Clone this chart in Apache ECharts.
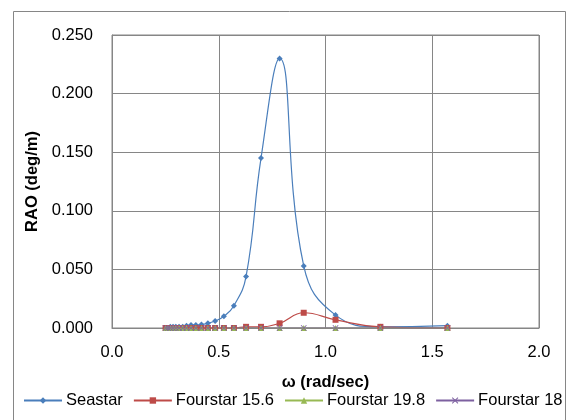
<!DOCTYPE html>
<html>
<head>
<meta charset="utf-8">
<script src="https://cdn.jsdelivr.net/npm/echarts@6/dist/echarts.min.js"></script>
<style>
  html, body { margin: 0; padding: 0; background: #fff; }
  #chart { width: 571px; height: 420px; }
</style>
</head>
<body>
<div id="chart"></div>
<script>
// Wave frequencies (rad/s), 2π/T for T = 25 s down to 4 s
const omega = [0.251, 0.262, 0.273, 0.286, 0.299, 0.314, 0.331, 0.349, 0.370, 0.393,
               0.419, 0.449, 0.483, 0.524, 0.571, 0.628, 0.698, 0.785, 0.898, 1.047,
               1.257, 1.571];

// Response amplitude operators (deg/m)
const seastar = [0.000, 0.000, 0.001, 0.001, 0.001, 0.001, 0.001, 0.002, 0.0025, 0.0025,
                 0.003, 0.004, 0.006, 0.010, 0.019, 0.044, 0.145, 0.230, 0.053, 0.011,
                 0.001, 0.002];
const fourstar156 = [0, 0, 0, 0, 0, 0, 0, 0, 0, 0,
                     0, 0, 0, 0, 0, 0.001, 0.001, 0.004, 0.013, 0.007,
                     0.001, 0.000];
const fourstar198 = [0, 0, 0, 0, 0, 0, 0, 0, 0, 0,
                     0, 0, 0, 0, 0, 0, 0, 0, 0, 0,
                     0, 0];
const fourstar18 = [0, 0, 0, 0, 0, 0, 0, 0, 0, 0,
                    0, 0, 0, 0, 0, 0, 0, 0, 0, 0,
                    0, 0];

const seriesNames = ['Seastar', 'Fourstar 15.6', 'Fourstar 19.8', 'Fourstar 18'];
const xTicks = { min: 0, max: 2, step: 0.5 };
const yTicks = { min: 0, max: 0.25, step: 0.05 };

const FONT = "'Liberation Sans', Arial, sans-serif";
const GRID = '#868686';
const crossPath = 'path://M1,0L5,4L9,0L10,1L6,5L10,9L9,10L5,6L1,10L0,9L4,5L0,1Z';

function pairs(ys) { return omega.map((x, i) => [x, ys[i]]); }

function lineSeries(name, ys, color, symbol, size) {
  return {
    name: name,
    type: 'line',
    data: pairs(ys),
    smooth: 0.45,
    symbol: symbol,
    symbolSize: size,
    showAllSymbol: true,
    lineStyle: { color: color, width: 1.2 },
    itemStyle: { color: color },
    emphasis: { disabled: true },
    z: 3
  };
}

const chart = echarts.init(document.getElementById('chart'), null, { renderer: 'canvas' });
chart.setOption({
  animation: false,
  backgroundColor: '#ffffff',
  textStyle: { fontFamily: FONT },
  graphic: [{
    type: 'rect',
    shape: { x: 13.5, y: 11.5, width: 552, height: 420 },
    style: { fill: 'none', stroke: GRID, lineWidth: 1 },
    silent: true
  }],
  grid: { left: 112, top: 35, right: 32, bottom: 92, show: true, borderColor: GRID, borderWidth: 1 },
  legend: {
    data: seriesNames,
    left: 23,
    top: 392,
    width: 600,
    padding: 0,
    itemWidth: 38,
    itemHeight: 8,
    itemGap: 10,
    textStyle: { fontFamily: FONT, fontSize: 16.5, color: '#000', padding: [0, 0, 0, -1] }
  },
  xAxis: {
    type: 'value',
    min: xTicks.min, max: xTicks.max, interval: xTicks.step,
    name: 'ω (rad/sec)',
    nameLocation: 'middle',
    nameGap: 46,
    nameTextStyle: { fontFamily: FONT, fontSize: 16.5, fontWeight: 'bold', color: '#000' },
    axisLine: { lineStyle: { color: GRID } },
    axisTick: { show: false },
    axisLabel: { margin: 16, fontFamily: FONT, fontSize: 16.5, color: '#000',
                 formatter: v => v.toFixed(1) },
    splitLine: { show: true, lineStyle: { color: GRID, width: 1 } }
  },
  yAxis: {
    type: 'value',
    min: yTicks.min, max: yTicks.max, interval: yTicks.step,
    name: 'RAO (deg/m)',
    nameLocation: 'middle',
    nameGap: 69,
    nameTextStyle: { fontFamily: FONT, fontSize: 16.5, fontWeight: 'bold', color: '#000' },
    axisLine: { show: true, lineStyle: { color: GRID } },
    axisTick: { show: false },
    axisLabel: { margin: 19, fontFamily: FONT, fontSize: 16.5, color: '#000',
                 formatter: v => v.toFixed(3) },
    splitLine: { show: true, lineStyle: { color: GRID, width: 1 } }
  },
  series: [
    lineSeries(seriesNames[0], seastar, '#4A7EBB', 'diamond', 6),
    lineSeries(seriesNames[1], fourstar156, '#BE4B48', 'rect', 6),
    lineSeries(seriesNames[2], fourstar198, '#98B954', 'triangle', 6),
    lineSeries(seriesNames[3], fourstar18, '#7D60A0', crossPath, 6)
  ]
});
</script>
</body>
</html>
